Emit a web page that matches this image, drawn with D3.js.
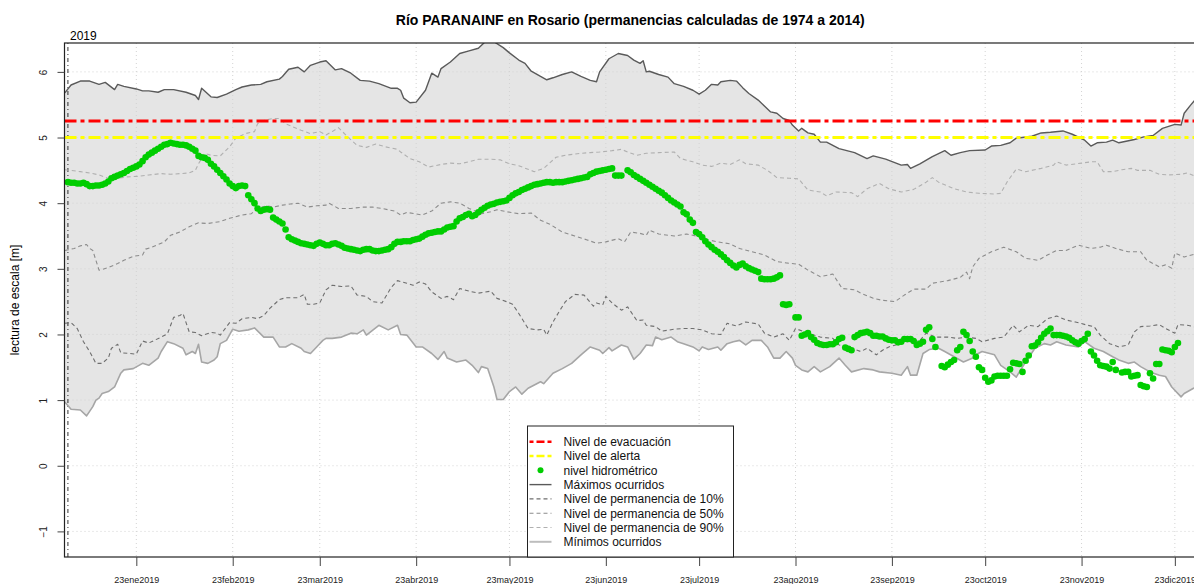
<!DOCTYPE html>
<html>
<head>
<meta charset="utf-8">
<script src="https://cdn.jsdelivr.net/npm/d3@7/dist/d3.min.js"></script>
<style>
  body { margin: 0; background: #fff; }
  svg { display: block; font-family: "Liberation Sans", Arial, sans-serif; }
</style>
</head>
<body>
<div id="grafico"></div>
<script>
// ---- datos (dia del año 2019 desde el 1 de enero, nivel en m) ----
const maximos = [[-1,5.68],[1,5.80],[4,5.86],[7,5.86],[10,5.81],[12,5.84],[15,5.73],[16,5.81],[18,5.78],[22,5.74],[24,5.71],[26,5.71],[29,5.69],[31,5.73],[34,5.73],[38,5.69],[41,5.64],[42,5.58],[43,5.75],[46,5.62],[48,5.61],[51,5.66],[54,5.73],[56,5.77],[59,5.80],[62,5.81],[64,5.85],[68,5.89],[69,5.93],[71,6.04],[74,6.07],[76,6.00],[78,6.10],[81,6.15],[83,6.17],[86,6.03],[88,6.05],[91,5.98],[94,5.87],[97,5.86],[100,5.82],[104,5.75],[106,5.75],[107,5.72],[108,5.60],[110,5.53],[112,5.54],[115,5.72],[117,5.98],[119,5.92],[120,6.05],[123,6.15],[126,6.28],[129,6.32],[132,6.36],[134,6.45],[137,6.46],[140,6.37],[142,6.29],[145,6.18],[147,6.13],[149,6.01],[152,5.93],[154,5.88],[156,5.91],[159,5.96],[162,6.00],[165,5.93],[168,5.87],[170,5.85],[171,6.00],[174,6.20],[177,6.28],[180,6.25],[182,6.18],[184,6.13],[185,6.17],[186,6.00],[187,6.01],[190,5.96],[193,5.92],[195,5.82],[198,5.78],[201,5.72],[203,5.66],[205,5.72],[207,5.81],[209,5.80],[210,5.85],[213,5.87],[215,5.86],[217,5.76],[219,5.67],[222,5.57],[224,5.48],[226,5.39],[228,5.37],[230,5.29],[232,5.26],[233,5.19],[235,5.10],[236,5.14],[238,5.07],[240,5.05],[242,4.93],[244,4.93],[248,4.83],[253,4.77],[257,4.68],[259,4.72],[263,4.67],[268,4.58],[270,4.59],[271,4.53],[274,4.60],[278,4.71],[282,4.80],[284,4.73],[287,4.77],[290,4.80],[295,4.81],[297,4.87],[300,4.88],[303,4.92],[305,4.99],[310,5.02],[313,5.07],[316,5.08],[320,5.10],[323,5.05],[327,4.96],[329,4.87],[331,4.92],[334,4.93],[336,4.96],[338,4.92],[343,4.97],[346,5.01],[349,5.03],[352,5.14],[356,5.20],[358,5.19],[359,5.37],[361,5.49],[363,5.60]];

const minimos = [[-1,0.97],[1,0.86],[4,0.85],[6,0.76],[8,0.90],[9,1.00],[10,1.03],[11,1.10],[13,1.13],[15,1.20],[17,1.41],[18,1.46],[21,1.48],[24,1.56],[26,1.53],[29,1.64],[30,1.74],[32,1.89],[34,1.86],[37,1.79],[38,1.69],[40,1.74],[41,1.71],[42,1.85],[43,1.58],[45,1.56],[47,1.61],[48,1.66],[49,1.86],[51,1.91],[53,2.08],[55,2.05],[58,2.07],[60,2.10],[63,1.96],[66,1.96],[68,1.81],[70,1.81],[72,1.86],[75,1.79],[76,1.74],[78,1.71],[80,1.81],[82,1.91],[83,1.94],[85,1.94],[88,1.96],[91,2.02],[93,2.01],[95,2.07],[96,1.99],[100,2.14],[103,2.07],[106,2.14],[107,2.00],[109,1.99],[112,1.81],[114,1.81],[117,1.71],[119,1.62],[121,1.74],[122,1.64],[125,1.58],[128,1.61],[130,1.53],[132,1.42],[133,1.51],[135,1.48],[137,1.20],[138,1.01],[140,1.01],[142,1.13],[144,1.20],[146,1.09],[148,1.18],[150,1.23],[152,1.28],[153,1.25],[156,1.41],[159,1.48],[162,1.56],[165,1.69],[168,1.81],[171,1.76],[172,1.71],[174,1.80],[175,1.75],[178,1.84],[180,1.81],[182,1.62],[184,1.71],[186,1.84],[188,1.83],[189,1.96],[191,1.92],[194,1.96],[196,1.89],[198,1.86],[201,1.81],[203,1.75],[204,1.81],[206,1.77],[209,1.81],[210,1.76],[212,1.86],[214,1.89],[216,1.91],[218,1.84],[220,1.91],[223,1.91],[225,1.81],[227,1.64],[229,1.64],[231,1.74],[233,1.64],[234,1.53],[236,1.46],[238,1.43],[240,1.51],[242,1.43],[245,1.51],[248,1.64],[250,1.53],[252,1.43],[256,1.48],[259,1.46],[261,1.43],[265,1.41],[268,1.38],[270,1.51],[271,1.38],[273,1.38],[275,1.71],[277,1.77],[280,1.79],[282,1.74],[285,1.66],[288,1.58],[291,1.64],[292,1.69],[294,1.74],[298,1.69],[300,1.53],[303,1.43],[305,1.35],[306,1.43],[308,1.58],[311,1.79],[314,1.86],[316,1.84],[318,1.89],[321,1.84],[325,1.81],[327,1.89],[330,1.79],[333,1.74],[336,1.66],[338,1.61],[341,1.56],[343,1.58],[345,1.51],[348,1.43],[351,1.38],[353,1.36],[355,1.20],[358,1.05],[359,1.10],[362,1.18],[363,1.20]];

const perm10 = [[-1,2.17],[1,2.18],[3,2.09],[5,1.89],[7,1.74],[9,1.56],[11,1.56],[13,1.64],[14,1.79],[16,1.85],[17,1.72],[20,1.71],[22,1.70],[24,1.90],[26,1.87],[30,1.96],[32,2.01],[34,2.26],[36,2.29],[37,2.32],[39,2.04],[41,2.03],[43,1.98],[46,2.03],[48,2.02],[49,1.99],[52,2.18],[54,2.17],[56,2.24],[59,2.26],[61,2.24],[63,2.29],[65,2.40],[68,2.53],[70,2.56],[74,2.56],[76,2.61],[77,2.46],[79,2.46],[81,2.48],[83,2.68],[85,2.75],[88,2.73],[91,2.74],[93,2.60],[96,2.58],[98,2.50],[101,2.48],[104,2.72],[106,2.82],[109,2.78],[111,2.75],[113,2.80],[115,2.77],[117,2.65],[120,2.55],[122,2.58],[124,2.53],[126,2.70],[129,2.66],[132,2.63],[136,2.66],[138,2.55],[141,2.50],[143,2.46],[145,2.32],[148,2.09],[151,2.07],[153,2.08],[154,1.99],[156,2.19],[158,2.35],[160,2.50],[163,2.61],[166,2.60],[169,2.43],[170,2.48],[172,2.45],[173,2.58],[175,2.48],[178,2.37],[180,2.42],[183,2.21],[185,2.22],[186,2.14],[189,2.12],[191,2.05],[195,2.08],[198,2.09],[201,2.09],[204,2.07],[207,2.01],[210,2.00],[212,2.17],[215,2.13],[218,2.19],[222,2.16],[224,2.02],[227,1.96],[230,2.01],[232,1.91],[234,2.09],[238,2.02],[242,1.96],[246,1.94],[248,1.84],[252,1.79],[255,1.74],[257,1.79],[260,1.69],[262,1.76],[264,1.81],[267,1.85],[270,1.89],[274,1.91],[276,2.02],[279,1.96],[283,1.96],[286,1.94],[289,1.96],[292,1.94],[294,1.89],[298,1.94],[301,1.96],[304,2.14],[306,2.04],[309,2.14],[312,2.12],[315,2.24],[318,2.28],[321,2.22],[324,2.19],[328,2.14],[330,2.12],[332,1.99],[335,1.86],[338,1.81],[341,1.84],[343,2.04],[345,2.12],[348,2.13],[351,2.15],[353,2.09],[356,2.02],[357,2.15],[360,2.14],[363,2.11]];

const perm50 = [[-1,3.28],[2,3.31],[4,3.35],[6,3.37],[7,3.31],[8,3.28],[9,3.13],[10,2.98],[11,2.99],[13,3.02],[16,3.08],[18,3.13],[21,3.19],[24,3.21],[25,3.30],[27,3.33],[31,3.41],[33,3.51],[36,3.56],[39,3.64],[42,3.70],[45,3.69],[49,3.72],[52,3.77],[56,3.82],[59,3.84],[61,3.92],[64,3.96],[66,3.94],[69,3.97],[72,3.99],[74,4.00],[77,3.94],[80,3.96],[83,3.97],[84,4.00],[87,3.92],[91,3.92],[95,3.94],[98,3.94],[101,3.92],[105,3.88],[107,3.82],[109,3.86],[114,3.82],[117,3.88],[120,4.00],[123,4.02],[126,4.00],[129,3.92],[133,3.84],[136,3.87],[138,3.90],[141,3.87],[145,3.84],[149,3.85],[152,3.74],[155,3.68],[159,3.56],[163,3.50],[167,3.44],[170,3.39],[173,3.41],[177,3.46],[179,3.41],[181,3.56],[184,3.54],[186,3.51],[187,3.59],[190,3.53],[195,3.50],[199,3.53],[202,3.50],[206,3.44],[209,3.41],[213,3.38],[216,3.31],[220,3.26],[224,3.21],[228,3.11],[231,3.09],[235,3.07],[238,2.98],[242,2.88],[246,2.92],[249,2.70],[253,2.68],[255,2.63],[259,2.55],[262,2.52],[266,2.50],[269,2.60],[272,2.69],[276,2.69],[278,2.78],[283,2.82],[287,2.87],[289,2.95],[290,2.85],[291,3.03],[293,3.16],[297,3.26],[301,3.33],[305,3.26],[308,3.16],[312,3.13],[315,3.21],[318,3.28],[321,3.28],[325,3.36],[329,3.31],[332,3.33],[334,3.36],[337,3.31],[341,3.26],[345,3.26],[347,3.13],[351,3.03],[353,3.06],[355,3.01],[356,3.24],[359,3.18],[363,3.23]];

const perm90 = [[-1,4.51],[4,4.48],[7,4.46],[10,4.43],[13,4.38],[16,4.38],[19,4.40],[23,4.41],[26,4.43],[30,4.45],[33,4.44],[36,4.45],[39,4.46],[41,4.50],[42,4.60],[44,4.76],[46,4.73],[49,4.72],[52,4.86],[54,4.99],[57,5.06],[60,5.09],[61,5.21],[63,5.26],[66,5.29],[68,5.29],[70,5.21],[75,5.11],[78,5.06],[81,5.09],[83,5.04],[85,5.09],[87,5.15],[90,5.01],[93,4.88],[96,4.85],[99,4.90],[102,4.86],[106,4.82],[107,4.78],[110,4.68],[113,4.63],[116,4.55],[120,4.59],[123,4.61],[126,4.60],[129,4.63],[132,4.67],[136,4.67],[139,4.66],[142,4.60],[145,4.57],[150,4.48],[153,4.53],[157,4.70],[160,4.73],[165,4.76],[168,4.77],[171,4.78],[175,4.80],[178,4.82],[180,4.78],[183,4.73],[186,4.76],[190,4.77],[195,4.78],[197,4.68],[201,4.63],[204,4.58],[207,4.56],[210,4.61],[213,4.59],[216,4.66],[218,4.60],[222,4.58],[225,4.50],[228,4.39],[232,4.38],[235,4.37],[238,4.20],[242,4.17],[244,4.11],[247,4.17],[252,4.16],[254,4.10],[257,4.22],[261,4.30],[264,4.22],[268,4.17],[272,4.21],[276,4.32],[278,4.39],[280,4.32],[285,4.22],[289,4.17],[293,4.15],[298,4.14],[300,4.15],[302,4.32],[305,4.52],[308,4.48],[313,4.53],[317,4.58],[318,4.63],[321,4.58],[326,4.61],[329,4.63],[331,4.63],[333,4.48],[336,4.48],[339,4.51],[342,4.53],[344,4.50],[348,4.50],[351,4.44],[354,4.43],[358,4.44],[360,4.46],[363,4.40]];

// nivel hidrometrico diario, desde el 1 de enero (null = sin dato)
const nivel = [
  4.32,4.31,4.31,4.30,4.30,4.31,4.29,4.26,4.26,4.27,
  4.27,4.28,4.30,4.33,4.38,4.40,4.42,4.44,4.46,4.49,
  4.52,4.54,4.56,4.59,4.64,4.70,4.74,4.77,4.80,4.83,
  4.86,4.89,4.90,4.92,4.91,4.90,4.89,4.89,4.88,4.86,
  4.83,4.80,4.72,4.70,4.69,4.66,4.60,4.56,4.51,4.46,
  4.41,4.36,4.30,4.26,4.23,4.26,4.27,4.26,4.12,4.06,
  4.00,3.92,3.88,3.90,3.91,3.90,3.78,3.75,3.72,3.69,
  3.60,3.48,3.45,3.43,3.41,3.39,3.38,3.37,3.36,3.35,
  3.38,3.40,3.38,3.36,3.36,3.38,3.39,3.37,3.35,3.32,
  3.31,3.30,3.29,3.28,3.27,3.29,3.30,3.30,3.28,3.27,
  3.27,3.28,3.29,3.30,3.33,3.38,3.41,3.41,3.42,3.42,
  3.42,3.44,3.45,3.46,3.49,3.52,3.54,3.55,3.56,3.57,
  3.57,3.60,3.63,3.64,3.65,3.72,3.77,3.79,3.82,3.84,
  3.80,3.82,3.86,3.90,3.93,3.96,3.98,3.99,4.01,4.02,
  4.03,4.04,4.08,4.12,4.15,4.17,4.20,4.22,4.24,4.26,
  4.28,4.29,4.30,4.31,4.32,4.32,4.31,4.32,4.32,4.32,
  4.33,4.34,4.35,4.36,4.37,4.38,4.39,4.40,4.44,4.46,
  4.48,4.49,4.50,4.51,4.52,4.53,4.42,4.42,4.42,null,
  4.50,4.47,4.43,4.40,4.37,4.34,4.31,4.28,4.25,4.22,
  4.19,4.16,4.12,4.08,4.04,4.01,3.98,3.95,3.86,3.83,
  3.75,3.70,3.56,3.53,3.48,3.42,3.37,3.33,3.29,3.26,
  3.22,3.18,3.13,3.09,3.05,3.02,3.06,3.08,3.04,3.01,
  2.99,2.97,2.95,2.85,2.84,2.84,2.84,2.85,2.87,2.90,
  2.46,2.45,2.46,null,2.26,2.26,1.98,2.00,2.02,1.96,
  1.92,1.87,1.85,1.84,1.84,1.85,1.85,1.88,1.93,1.95,
  1.80,1.78,1.76,1.96,1.99,2.02,2.03,2.04,2.02,1.98,
  1.98,1.97,1.97,1.94,1.92,1.91,1.91,1.88,1.89,1.93,
  1.93,1.93,1.90,1.84,1.86,1.89,2.07,2.11,1.93,1.81,
  null,1.52,1.50,1.54,1.58,1.61,1.76,1.81,2.04,1.99,
  1.90,1.74,1.66,1.50,1.46,1.34,1.28,1.30,1.36,1.37,
  1.37,1.37,1.37,1.47,1.57,1.56,1.55,1.43,1.60,1.68,
  1.82,1.83,1.88,1.95,2.01,2.05,2.09,1.99,1.99,1.99,
  1.98,1.97,1.95,1.91,1.88,1.86,1.90,1.93,2.01,1.74,
  1.68,1.60,1.53,1.52,1.51,1.48,1.58,1.46,null,1.42,
  1.43,1.43,1.36,1.37,1.38,1.23,1.21,1.20,1.41,1.33,
  1.55,1.55,1.77,1.76,1.75,1.73,1.81,1.87
];

const nivelEvacuacion = 5.25;
const nivelAlerta = 5.0;

const ticksY = [-1, 0, 1, 2, 3, 4, 5, 6];
const diasTicksX = [22, 53, 81, 112, 142, 173, 203, 234, 265, 295, 326, 356];
const etiquetasX = ["23ene2019","23feb2019","23mar2019","23abr2019","23may2019","23jun2019",
                    "23jul2019","23ago2019","23sep2019","23oct2019","23nov2019","23dic2019"];

const titulo = "Río PARANAINF en Rosario (permanencias calculadas de 1974 a 2014)";
const leyenda = ["Nivel de evacuación","Nivel de alerta","nivel hidrométrico","Máximos ocurridos",
                 "Nivel de permanencia de 10%","Nivel de permanencia de 50%",
                 "Nivel de permanencia de 90%","Mínimos ocurridos"];

// ---- dibujo ----
const ancho = 1194, alto = 584;
const izq = 64.5, der = 1196, sup = 43, inf = 557;

const dia0 = Date.UTC(2019, 0, 1);
const fecha = d => new Date(dia0 + d * 864e5);

const x = d3.scaleUtc()
  .domain([fecha(-1.1), fecha(362.8)])
  .range([izq, der]);
const y = d3.scaleLinear()
  .domain([-1.39, 6.44])
  .range([inf, sup]);

const svg = d3.select("#grafico").append("svg")
  .attr("width", ancho)
  .attr("height", alto);

svg.append("clipPath").attr("id", "recorte")
  .append("rect")
  .attr("x", izq).attr("y", sup)
  .attr("width", der - izq).attr("height", inf - sup);

const zona = svg.append("g").attr("clip-path", "url(#recorte)");

const linea = d3.line().x(d => x(fecha(d[0]))).y(d => y(d[1]));

// banda entre maximos y minimos
const banda = maximos.concat(minimos.slice().reverse());
zona.append("path")
  .datum(banda)
  .attr("fill", "#e5e5e5")
  .attr("stroke", "none")
  .attr("d", d => linea(d) + "Z");

// grilla punteada
zona.append("g")
  .selectAll("line")
  .data(diasTicksX)
  .join("line")
  .attr("x1", d => x(fecha(d))).attr("x2", d => x(fecha(d)))
  .attr("y1", sup).attr("y2", inf)
  .attr("stroke", "#d3d3d3").attr("stroke-dasharray", "1,3");
zona.append("g")
  .selectAll("line")
  .data(ticksY)
  .join("line")
  .attr("x1", izq).attr("x2", der)
  .attr("y1", d => y(d)).attr("y2", d => y(d))
  .attr("stroke", "#d3d3d3").attr("stroke-dasharray", "1,3");

// linea del 1 de enero
zona.append("line")
  .attr("x1", x(fecha(0))).attr("x2", x(fecha(0)))
  .attr("y1", sup).attr("y2", inf)
  .attr("stroke", "#000").attr("stroke-width", 0.8)
  .attr("stroke-dasharray", "1,3,4,3");

// curvas
const curvas = [
  {datos: maximos, color: "#5a5a5a", ancho: 1.4, trazo: null},
  {datos: minimos, color: "#a6a6a6", ancho: 1.6, trazo: null},
  {datos: perm10, color: "#6e6e6e", ancho: 1.1, trazo: "4,3"},
  {datos: perm50, color: "#8c8c8c", ancho: 1.1, trazo: "4,3"},
  {datos: perm90, color: "#b0b0b0", ancho: 1.1, trazo: "4,3"}
];
curvas.forEach(c => {
  zona.append("path")
    .datum(c.datos)
    .attr("fill", "none")
    .attr("stroke", c.color)
    .attr("stroke-width", c.ancho)
    .attr("stroke-dasharray", c.trazo)
    .attr("stroke-linejoin", "round")
    .attr("d", linea);
});

// niveles de evacuacion y alerta
[[nivelEvacuacion, "#ff0000"], [nivelAlerta, "#ffff00"]].forEach(([v, col]) => {
  zona.append("line")
    .attr("x1", izq).attr("x2", der)
    .attr("y1", y(v)).attr("y2", y(v))
    .attr("stroke", col).attr("stroke-width", 3)
    .attr("stroke-dasharray", "12,4,4,4");
});

// nivel hidrometrico
zona.append("g")
  .selectAll("circle")
  .data(nivel.map((v, i) => [i, v]).filter(d => d[1] != null))
  .join("circle")
  .attr("cx", d => x(fecha(d[0])))
  .attr("cy", d => y(d[1]))
  .attr("r", 3.3)
  .attr("fill", "#00cd00");

// marco
svg.append("rect")
  .attr("x", izq).attr("y", sup)
  .attr("width", der - izq).attr("height", inf - sup)
  .attr("fill", "none").attr("stroke", "#222").attr("stroke-width", 1.2);

// ejes
const ejeX = svg.append("g")
  .attr("transform", `translate(0,${inf})`)
  .call(d3.axisBottom(x)
    .tickValues(diasTicksX.map(fecha))
    .tickFormat((d, i) => etiquetasX[i])
    .tickSize(9)
    .tickPadding(10.5));
ejeX.select(".domain").remove();
ejeX.selectAll("line").attr("stroke", "#444");
ejeX.selectAll("text").attr("font-size", 9).attr("fill", "#222")
  .attr("font-family", "Liberation Sans, Arial, sans-serif");

const ejeY = svg.append("g")
  .attr("transform", `translate(${izq},0)`)
  .call(d3.axisLeft(y).tickValues(ticksY).tickSize(7).tickFormat(d3.format("d")));
ejeY.select(".domain").remove();
ejeY.selectAll("line").attr("stroke", "#444");
ejeY.selectAll("text")
  .attr("font-size", 10).attr("fill", "#222")
  .attr("font-family", "Liberation Sans, Arial, sans-serif")
  .attr("text-anchor", "middle")
  .attr("x", 0).attr("dy", null)
  .attr("y", -18)
  .attr("transform", "rotate(-90)");

// textos
svg.append("text")
  .attr("x", (izq + der) / 2).attr("y", 25)
  .attr("text-anchor", "middle")
  .attr("font-size", 14).attr("font-weight", "bold")
  .text(titulo);

svg.append("text")
  .attr("x", 70).attr("y", 40)
  .attr("font-size", 12)
  .text("2019");

svg.append("text")
  .attr("transform", `translate(19,${(sup + inf) / 2}) rotate(-90)`)
  .attr("text-anchor", "middle")
  .attr("font-size", 12)
  .text("lectura de escala [m]");

// leyenda
const simbolos = [
  {tipo: "linea", color: "#ff0000", ancho: 2.5, trazo: "4,3,8,3"},
  {tipo: "linea", color: "#ffff00", ancho: 2.5, trazo: "4,3,8,3"},
  {tipo: "punto", color: "#00cd00"},
  {tipo: "linea", color: "#5a5a5a", ancho: 1.4, trazo: null},
  {tipo: "linea", color: "#6e6e6e", ancho: 1.1, trazo: "4,3"},
  {tipo: "linea", color: "#8c8c8c", ancho: 1.1, trazo: "4,3"},
  {tipo: "linea", color: "#b0b0b0", ancho: 1.1, trazo: "4,3"},
  {tipo: "linea", color: "#bdbdbd", ancho: 2, trazo: null}
];
const ley = svg.append("g").attr("transform", "translate(527.5,426)");
ley.append("rect")
  .attr("width", 206).attr("height", inf - 426)
  .attr("fill", "#fff").attr("stroke", "#222").attr("stroke-width", 1);
const filas = ley.selectAll("g.fila")
  .data(leyenda)
  .join("g")
  .attr("class", "fila")
  .attr("transform", (d, i) => `translate(0,${15.7 + i * 14.3})`);
filas.each(function (d, i) {
  const g = d3.select(this);
  const s = simbolos[i];
  if (s.tipo === "punto") {
    g.append("circle").attr("cx", 13).attr("cy", 0).attr("r", 3).attr("fill", s.color);
  } else {
    g.append("line").attr("x1", 2).attr("x2", 24).attr("y1", 0).attr("y2", 0)
      .attr("stroke", s.color).attr("stroke-width", s.ancho)
      .attr("stroke-dasharray", s.trazo);
  }
  g.append("text").attr("x", 36).attr("y", 4.3).attr("font-size", 12).attr("fill", "#111").text(d);
});
</script>
</body>
</html>
